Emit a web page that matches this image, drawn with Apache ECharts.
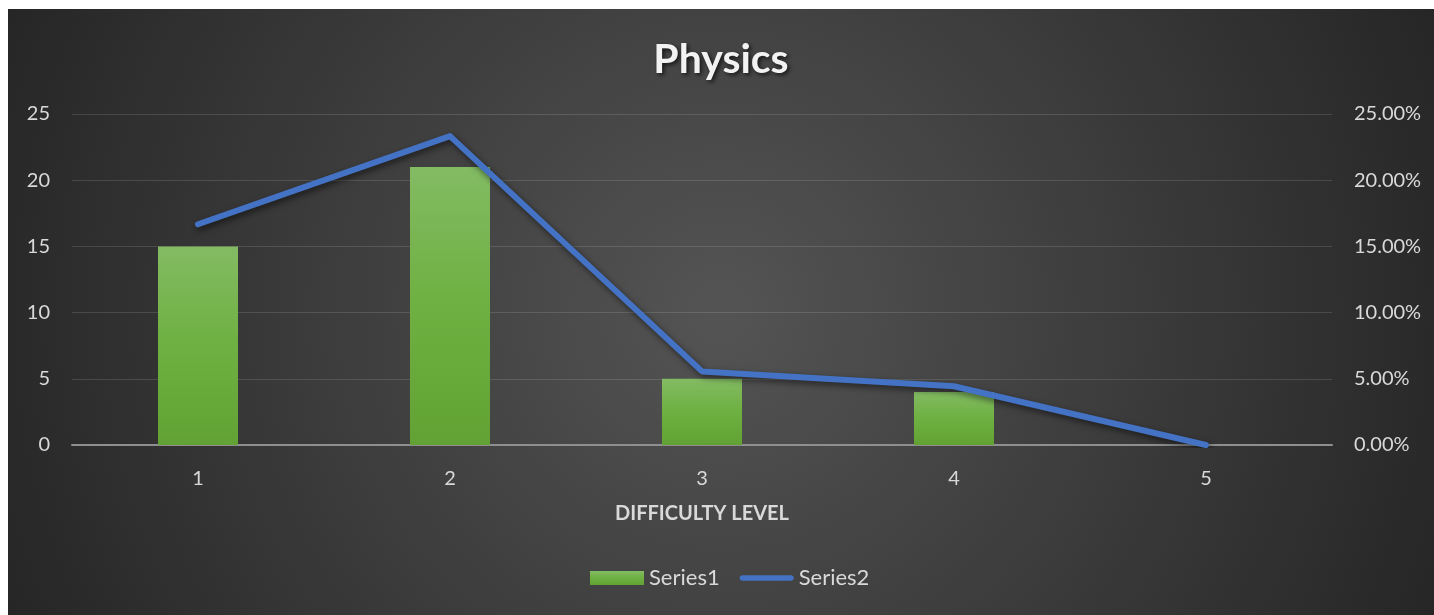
<!DOCTYPE html>
<html>
<head>
<meta charset="utf-8">
<script src="https://cdn.jsdelivr.net/npm/echarts@6/dist/echarts.min.js"></script>
<style>
  html, body { margin: 0; padding: 0; background: #ffffff; width: 1434px; height: 615px; overflow: hidden; }
  #chart { position: absolute; left: 8px; top: 9px; width: 1426px; height: 606px; }
</style>
</head>
<body>
<div id="chart"></div>
<script>
const categories = ['1', '2', '3', '4', '5'];
const series1Counts = [15, 21, 5, 4, 0];
const series2Shares = [0.1667, 0.2333, 0.0556, 0.0444, 0];
const leftTicks = { min: 0, max: 25, interval: 5 };
const rightTicks = { min: 0, max: 0.25, interval: 0.05 };
const titleText = 'Physics';
const xAxisTitle = 'DIFFICULTY LEVEL';

const FONT = 'Lato, "Open Sans", sans-serif';
const labelColor = '#d9d9d9';
const lineIcon = 'path://M0,0 M58,14 M3,4 L55,4 A3,3 0 0 1 55,10 L3,10 A3,3 0 0 1 3,4 Z';

const chart = echarts.init(document.getElementById('chart'), null, { renderer: 'canvas' });
chart.setOption({
  backgroundColor: {
    type: 'radial', x: 0.5, y: 0.5, r: 1.3,
    colorStops: [
      { offset: 0, color: '#545454' },
      { offset: 1, color: '#252525' }
    ]
  },
  title: {
    text: titleText,
    left: 'center',
    top: 25,
    textStyle: {
      color: '#f2f2f2', fontFamily: FONT, fontWeight: 'bold', fontSize: 41,
      textShadowColor: 'rgba(0,0,0,0.7)', textShadowBlur: 4,
      textShadowOffsetX: 2, textShadowOffsetY: 2
    }
  },
  legend: {
    bottom: 21,
    left: 577,
    itemWidth: 54,
    itemHeight: 14,
    itemGap: 20,
    textStyle: { color: labelColor, fontFamily: FONT, fontSize: 22 },
    data: [
      { name: 'Series1', icon: 'rect' },
      { name: 'Series2', icon: lineIcon }
    ]
  },
  grid: { left: 64, right: 102, top: 105, bottom: 170, containLabel: false },
  xAxis: {
    type: 'category',
    data: categories,
    name: xAxisTitle,
    nameLocation: 'middle',
    nameGap: 59,
    nameTextStyle: { color: labelColor, fontFamily: FONT, fontWeight: 'bold', fontSize: 20 },
    axisLine: { lineStyle: { color: '#8f8f8f', width: 2 } },
    axisTick: { show: false },
    axisLabel: { color: labelColor, fontFamily: FONT, fontSize: 20, margin: 24 },
    splitLine: { show: false }
  },
  yAxis: [
    {
      type: 'value',
      min: leftTicks.min, max: leftTicks.max, interval: leftTicks.interval,
      axisLine: { show: false },
      axisTick: { show: false },
      axisLabel: { color: labelColor, fontFamily: FONT, fontSize: 20, margin: 22 },
      splitLine: { lineStyle: { color: 'rgba(255,255,255,0.13)', width: 1 } }
    },
    {
      type: 'value',
      min: rightTicks.min, max: rightTicks.max, interval: rightTicks.interval,
      axisLine: { show: false },
      axisTick: { show: false },
      axisLabel: {
        color: labelColor, fontFamily: FONT, fontSize: 20, margin: 22,
        formatter: v => (v * 100).toFixed(2) + '%'
      },
      splitLine: { show: false }
    }
  ],
  series: [
    {
      name: 'Series1',
      type: 'bar',
      data: series1Counts,
      barWidth: 80,
      itemStyle: {
        color: {
          type: 'linear', x: 0, y: 0, x2: 0, y2: 1,
          colorStops: [
            { offset: 0, color: '#83bb63' },
            { offset: 0.5, color: '#6eb041' },
            { offset: 1, color: '#62a234' }
          ]
        },
        shadowColor: 'rgba(0,0,0,0.55)', shadowBlur: 6,
        shadowOffsetX: 3, shadowOffsetY: 2
      },
      emphasis: { disabled: true }
    },
    {
      name: 'Series2',
      type: 'line',
      yAxisIndex: 1,
      data: series2Shares,
      symbol: 'none',
      lineStyle: {
        color: '#4472c4', width: 6, cap: 'round', join: 'round',
        shadowColor: 'rgba(0,0,0,0.55)', shadowBlur: 6,
        shadowOffsetX: 2, shadowOffsetY: 3
      },
      itemStyle: { color: '#4472c4' },
      emphasis: { disabled: true },
      z: 3
    }
  ]
});
</script>
</body>
</html>
